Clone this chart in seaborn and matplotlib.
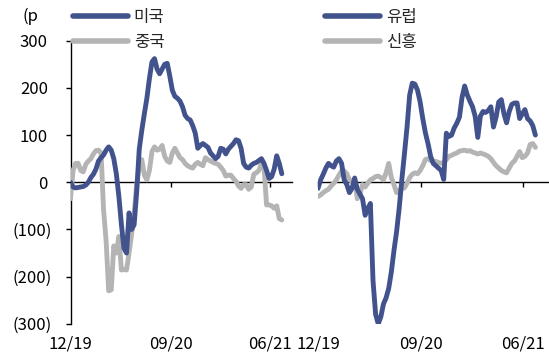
import matplotlib
matplotlib.use("Agg")
import matplotlib.pyplot as plt
import matplotlib.dates as mdates
import matplotlib.transforms as mtransforms
import pandas as pd
import seaborn as sns

# Weekly spread changes (p), Dec 2019 - Jul 2021
dates = pd.date_range("2019-12-06", periods=84, freq="W-FRI")

us = [0, -10, -12, -11, -10, -9, -6, 0, 10, 17, 28, 45, 52, 58, 68, 75, 68, 50, 18, -30,
      -90, -140, -150, -65, -100, -90, -20, 70, 110, 145, 178, 220, 255, 262, 240, 230, 240, 250, 252, 225,
      195, 182, 178, 172, 160, 142, 135, 132, 120, 104, 72, 78, 82, 78, 74, 62, 56, 50, 55, 72,
      70, 60, 70, 76, 82, 90, 88, 72, 40, 32, 30, 36, 40, 42, 46, 50, 40, 25, 8, 12,
      28, 56, 40, 18]
china = [-35, 25, 40, 40, 25, 22, 38, 45, 50, 60, 67, 68, 62, -60, -125, -230, -228, -135, -150, -115,
         -186, -185, -186, -150, -110, -65, -5, 35, 48, 15, 5, 25, 65, 75, 68, 70, 78, 55, 45, 42,
         62, 72, 62, 52, 48, 40, 35, 32, 30, 38, 42, 38, 35, 52, 48, 45, 42, 40, 38, 32,
         25, 13, 15, 15, 8, 2, -8, -13, -5, -5, -15, -10, 17, 20, 25, 40, 35, -48, -48, -50,
         -55, -50, -77, -80]
europe = [-13, 5, 17, 30, 40, 35, 32, 45, 50, 40, 5, -5, -22, -13, 9, -15, -25, -35, -70, -56,
          -45, -208, -280, -300, -285, -258, -245, -225, -190, -145, -105, -55, 5, 60, 117, 185, 210, 208, 195, 170,
          135, 105, 82, 55, 40, 35, 30, 25, 6, 104, 97, 100, 115, 125, 138, 180, 204, 185, 172, 160,
          140, 95, 140, 150, 148, 152, 160, 117, 138, 170, 175, 145, 126, 150, 165, 168, 168, 135, 145, 154,
          135, 130, 120, 100]
em = [-30, -27, -22, -18, -15, -8, -2, 5, 15, 24, 24, 18, 5, 2, 5, -35, -25, -5, -10, -2,
      5, 8, 12, 13, 10, 5, 20, 40, 10, -5, -22, -18, -13, -12, -2, 10, 17, 20, 18, 25,
      35, 48, 50, 46, 45, 44, 42, 40, 42, 48, 55, 57, 60, 62, 66, 67, 68, 66, 67, 64,
      62, 60, 62, 60, 58, 55, 50, 42, 35, 30, 25, 22, 20, 30, 40, 45, 55, 65, 52, 55,
      62, 80, 82, 74]

tick_dates = pd.to_datetime(["2019-12-06", "2020-09-06", "2021-06-06"])
tick_labels = ["12/19", "09/20", "06/21"]
y_ticks = [300, 200, 100, 0, -100, -200, -300]
y_labels = ["300", "200", "100", "0", "(100)", "(200)", "(300)"]

BLUE = "#42528C"
GRAY = "#B4B4B4"

sns.set_theme(style="white")
plt.rcParams["font.family"] = ["Noto Sans CJK KR", "DejaVu Sans"]
plt.rcParams["font.size"] = 12

fig = plt.figure(figsize=(5.49, 3.55), dpi=100)
W, H = 549, 355
bottom = (H - 323.8) / H
height = (323.8 - 40.7) / H
ax1 = fig.add_axes([70.5 / W, bottom, 221.5 / W, height])
ax2 = fig.add_axes([318 / W, bottom, 231 / W, height])

panels = [
    (ax1, "미국", us, "중국", china, 87.0, 73),
    (ax2, "유럽", europe, "신흥", em, 88.2, 325),
]

for ax, name_a, vals_a, name_b, vals_b, span_weeks, leg_x in panels:
    df = pd.DataFrame({
        "date": list(dates) * 2,
        "value": vals_a + vals_b,
        "series": [name_a] * len(dates) + [name_b] * len(dates),
    })
    sns.lineplot(data=df, x="date", y="value", hue="series",
                 hue_order=[name_b, name_a], palette=[GRAY, BLUE],
                 linewidth=3.5, errorbar=None, legend=False, ax=ax, zorder=3)
    for ln in ax.get_lines():
        ln.set_solid_joinstyle("round")
        ln.set_solid_capstyle("round")

    x0 = mdates.date2num(dates[0])
    ax.set_xlim(x0, x0 + span_weeks * 7)
    ax.set_ylim(-300, 300)
    ax.set_xlabel("")
    ax.set_ylabel("")
    ax.set_facecolor("none")

    # horizontal axis drawn at zero with small tick marks
    for s in ["top", "right"]:
        ax.spines[s].set_visible(False)
    ax.spines["bottom"].set_position(("data", 0))
    ax.spines["bottom"].set_color("black")
    ax.spines["bottom"].set_linewidth(1.0)
    ax.spines["bottom"].set_zorder(1)
    ax.set_xticks(mdates.date2num(tick_dates))
    ax.tick_params(axis="x", direction="out", length=3.6, width=1.0, color="black",
                   labelbottom=False, bottom=True)

    # date labels along the bottom edge
    sec = ax.secondary_xaxis("bottom")
    sec.spines["bottom"].set_visible(False)
    sec.set_xticks(mdates.date2num(tick_dates))
    sec.set_xticklabels(tick_labels)
    sec.tick_params(axis="x", length=0, pad=8.5, labelsize=12, colors="black")

    series_lines = ax.get_lines()
    leg = ax.legend([series_lines[1], series_lines[0]], [name_a, name_b], loc="upper left",
                    bbox_to_anchor=(leg_x / W, 1 - 9 / H),
                    bbox_transform=fig.transFigure, frameon=False,
                    borderpad=0, borderaxespad=0, handlelength=3.3,
                    handletextpad=0.35, labelspacing=0.5, fontsize=12)
    for lh in leg.get_lines():
        lh.set_linewidth(4.0)
        lh.set_solid_capstyle("round")

# left panel carries the value axis
ax1.spines["left"].set_color("black")
ax1.spines["left"].set_linewidth(1.0)
ax1.set_yticks(y_ticks)
ax1.set_yticklabels(y_labels)
ax1.tick_params(axis="y", direction="out", length=3.4, width=1.0, color="black",
                left=True, pad=10, labelsize=12, labelcolor="black")
# positive values sit a little left, aligned to the digits of the bracketed ones
shift = mtransforms.ScaledTranslation(-4 / 100, 0, fig.dpi_scale_trans)
for lab in ax1.get_yticklabels():
    if not lab.get_text().startswith("("):
        lab.set_transform(lab.get_transform() + shift)

ax2.spines["left"].set_visible(False)
ax2.set_yticks(y_ticks)
ax2.tick_params(axis="y", left=False, labelleft=False)

fig.text(22 / W, 1 - 16 / H, "(p", fontsize=12, va="center", ha="left", color="black")

fig.savefig("out.png", dpi=100)
